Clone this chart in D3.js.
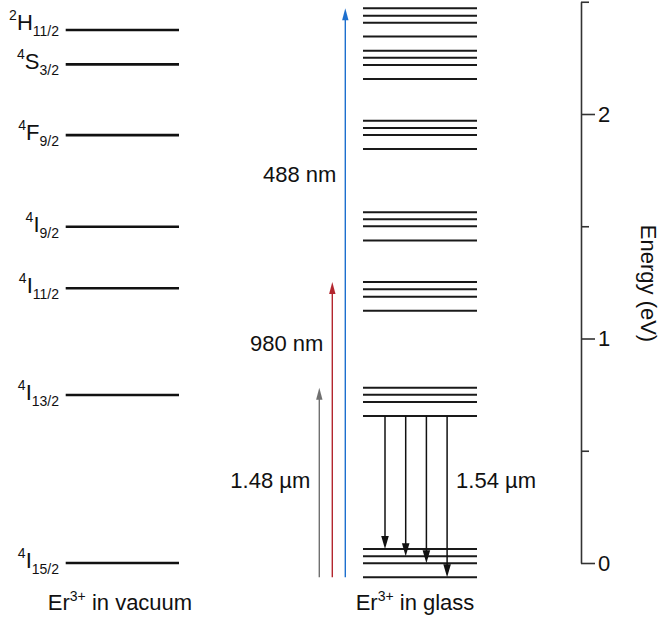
<!DOCTYPE html>
<html>
<head>
<meta charset="utf-8">
<script src="https://cdn.jsdelivr.net/npm/d3@7/dist/d3.min.js"></script>
<style>
  html, body { margin: 0; padding: 0; background: #fff; }
  svg { display: block; font-family: "Liberation Sans", Arial, sans-serif; }
</style>
</head>
<body>
<svg id="chart" width="662" height="621"></svg>
<script>
// Er3+ manifolds: spin multiplicity, orbital letter and J for each term
const termSpin   = ["4", "4", "4", "4", "4", "4", "2"];
const termLetter = ["I", "I", "I", "I", "F", "S", "H"];
const termJ      = ["15/2", "13/2", "11/2", "9/2", "9/2", "3/2", "11/2"];

// Free-ion level energies (eV)
const vacuumEnergy = [0.0, 0.748, 1.224, 1.498, 1.906, 2.221, 2.374];

// Stark-split sublevels in the glass host (eV), one list per manifold
const glassEnergy = [
  [0.062, 0.030, -0.001, -0.064],
  [0.781, 0.750, 0.717, 0.655],
  [1.252, 1.219, 1.186, 1.124],
  [1.562, 1.531, 1.500, 1.437],
  [1.970, 1.938, 1.906, 1.844],
  [2.282, 2.251, 2.218, 2.156],
  [2.471, 2.438, 2.407, 2.345]
];

// Pump transitions: from the lowest ground sublevel to the top sublevel of a manifold
const pumpLabels = ["1.48 µm", "980 nm", "488 nm"];
const pumpFrom   = -0.064;
const pumpTo     = [0.781, 1.252, 2.471];

// Emission transitions: lowest 4I13/2 sublevel down to each ground sublevel
const emissionLabel = "1.54 µm";
const emissionFrom  = 0.655;
const emissionTo    = [0.062, 0.030, -0.001, -0.064];

// Energy axis
const axisDomain = [0, 2.5];
const axisTicks  = [0, 0.5, 1, 1.5, 2, 2.5];

const svg = d3.select("#chart");

const y = d3.scaleLinear().domain(axisDomain).range([563, 1.75]);

// Column extents (px)
const vac   = { x0: 65.7, x1: 179 };
const glass = { x0: 363, x1: 477 };
const pumpX = d3.scaleLinear().domain([0, 1]).range([319.3, 332.3]);
const emisX = d3.scaleLinear().domain([0, 1]).range([385, 405.7]);

const pumpColors = ["#707070", "#b3262e", "#1d6fce"];

// ---- free-ion levels ----
svg.append("g").selectAll("line")
  .data(vacuumEnergy)
  .join("line")
  .attr("x1", vac.x0).attr("x2", vac.x1)
  .attr("y1", d => y(d)).attr("y2", d => y(d))
  .attr("stroke", "#111").attr("stroke-width", 2.6);

// term labels
const labelG = svg.append("g").attr("fill", "#111");
vacuumEnergy.forEach((e, i) => {
  const base = y(e) + (termLetter[i] === "H" ? 0 : 5);
  const t = labelG.append("text")
    .attr("x", 59).attr("y", base)
    .attr("text-anchor", "end");
  t.append("tspan").attr("font-size", 14).attr("dy", -10).text(termSpin[i]);
  t.append("tspan").attr("font-size", 22).attr("dy", 10).text(termLetter[i]);
  t.append("tspan").attr("font-size", 14).attr("dy", 6).text(termJ[i]);
});

// ---- glass sublevels ----
svg.append("g").selectAll("line")
  .data(glassEnergy.flat())
  .join("line")
  .attr("x1", glass.x0).attr("x2", glass.x1)
  .attr("y1", d => y(d)).attr("y2", d => y(d))
  .attr("stroke", "#1a1a1a").attr("stroke-width", 2);

// arrow helper: shaft + filled triangular head, tip at (x, yTip)
function arrow(g, x, yFrom, yTip, color, width, headLen, headHalf) {
  const dir = yTip < yFrom ? 1 : -1; // 1 = pointing up
  g.append("line")
    .attr("x1", x).attr("x2", x)
    .attr("y1", yFrom).attr("y2", yTip + dir * headLen * 0.8)
    .attr("stroke", color).attr("stroke-width", width);
  g.append("path")
    .attr("d", `M${x},${yTip} L${x - headHalf},${yTip + dir * headLen} L${x + headHalf},${yTip + dir * headLen} Z`)
    .attr("fill", color);
}

// ---- pump arrows ----
const pumpG = svg.append("g");
pumpTo.forEach((e, i) => {
  arrow(pumpG, pumpX(i), y(pumpFrom), y(e), pumpColors[i], 1.4, 12, 3.2);
});

// ---- emission arrows ----
const emisG = svg.append("g");
emissionTo.forEach((e, i) => {
  arrow(emisG, emisX(i), y(emissionFrom), y(e), "#111", 1.5, 13, 3.8);
});

// ---- transition labels ----
const pumpLabelAt = [0.334, 0.944, 1.697];
const textG = svg.append("g").attr("font-size", 22).attr("fill", "#111");
pumpLabels.forEach((s, i) => {
  textG.append("text")
    .attr("x", pumpX(i) - 9).attr("y", y(pumpLabelAt[i]))
    .attr("text-anchor", "end").text(s);
});
textG.append("text")
  .attr("x", emisX(emissionTo.length - 1) + 9).attr("y", y(0.334))
  .attr("text-anchor", "start").text(emissionLabel);

// ---- column captions ----
function caption(cx, rest) {
  const t = textG.append("text").attr("x", cx).attr("y", 610).attr("text-anchor", "middle");
  t.append("tspan").text("Er");
  t.append("tspan").attr("font-size", 14).attr("dy", -9).text("3+");
  t.append("tspan").attr("dy", 9).text(rest);
}
caption(120, " in vacuum");
caption(415, " in glass");

// ---- energy axis ----
const axis = d3.axisRight(y)
  .tickValues(axisTicks)
  .tickSize(14)
  .tickSizeOuter(0)
  .tickPadding(3)
  .tickFormat(d => Number.isInteger(d) ? d3.format("d")(d) : "");

const axG = svg.append("g")
  .attr("transform", "translate(581,0)")
  .call(axis);
axG.select(".domain").attr("stroke", "#333").attr("stroke-width", 1.6);
axG.selectAll(".tick line")
  .attr("stroke", "#333").attr("stroke-width", 1.6)
  .attr("x2", d => Number.isInteger(d) ? 14 : 8);
axG.selectAll(".tick text")
  .attr("font-size", 22).attr("fill", "#111")
  .attr("font-family", "Liberation Sans, Arial, sans-serif");

svg.append("text")
  .attr("transform", `translate(641,${y(1.245)}) rotate(90)`)
  .attr("text-anchor", "middle")
  .attr("font-size", 22).attr("fill", "#111")
  .text("Energy (eV)");
</script>
</body>
</html>
